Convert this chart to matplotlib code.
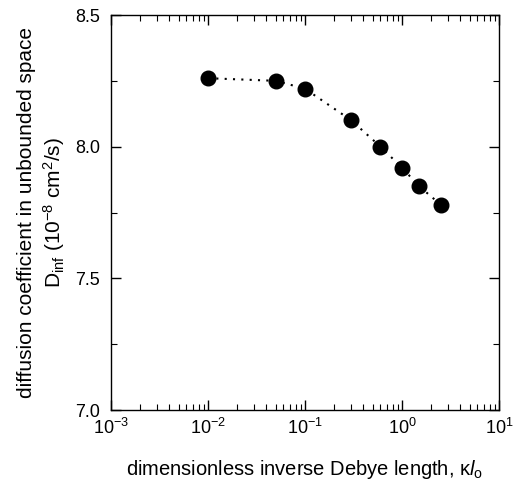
import matplotlib
matplotlib.use("Agg")
import matplotlib.pyplot as plt
import matplotlib.ticker as tkr

# data
kappa_l = [0.01, 0.05, 0.1, 0.3, 0.6, 1.0, 1.5, 2.5]
d_inf = [8.26, 8.25, 8.22, 8.10, 8.00, 7.92, 7.85, 7.78]

xticks = [1e-3, 1e-2, 1e-1, 1e0, 1e1]
xticklabels = ["$10^{-3}$", "$10^{-2}$", "$10^{-1}$", "$10^{0}$", "$10^{1}$"]
yticks = [7.0, 7.5, 8.0, 8.5]

plt.rcParams['font.family'] = ['Liberation Sans', 'DejaVu Sans']
plt.rcParams['mathtext.fontset'] = 'custom'
plt.rcParams['mathtext.rm'] = 'Liberation Sans'
plt.rcParams['mathtext.it'] = 'Liberation Sans:italic'

fig = plt.figure(figsize=(5.13, 4.86), dpi=100)
ax = fig.add_axes([111/513, 76/486, 388/513, 395/486])

ax.plot(kappa_l, d_inf, linestyle=(0, (1, 3)), color='black', lw=1.5,
        marker='o', markersize=10.5, markerfacecolor='black', markeredgecolor='black')

ax.set_xscale('log')
ax.set_xlim(1e-3, 1e1)
ax.set_ylim(7.0, 8.5)
ax.set_xticks(xticks)
ax.set_xticklabels(xticklabels)
ax.set_yticks(yticks)
ax.set_yticklabels(["%.1f" % v for v in yticks])
ax.yaxis.set_minor_locator(tkr.MultipleLocator(0.25))
ax.xaxis.set_minor_locator(tkr.LogLocator(base=10, subs=range(2, 10), numticks=20))
ax.xaxis.set_minor_formatter(tkr.NullFormatter())

ax.tick_params(which='both', direction='in', top=True, right=True, labelsize=13)
ax.tick_params(which='major', length=7, width=1)
ax.tick_params(which='minor', length=4, width=0.8)
ax.tick_params(axis='x', which='major', pad=6)
ax.tick_params(axis='y', which='major', pad=8)
for s in ax.spines.values():
    s.set_linewidth(1.0)

ax.set_xlabel("dimensionless inverse Debye length, κ$\\mathit{l}_{\\mathrm{o}}$",
              fontsize=14.5, labelpad=14)
ax.set_ylabel("diffusion coefficient in unbounded space\n"
              "D$_{\\mathrm{inf}}$ (10$^{-8}$ cm$^2$/s)", fontsize=15, labelpad=6,
              linespacing=1.25)

plt.savefig("out.png", dpi=100)
